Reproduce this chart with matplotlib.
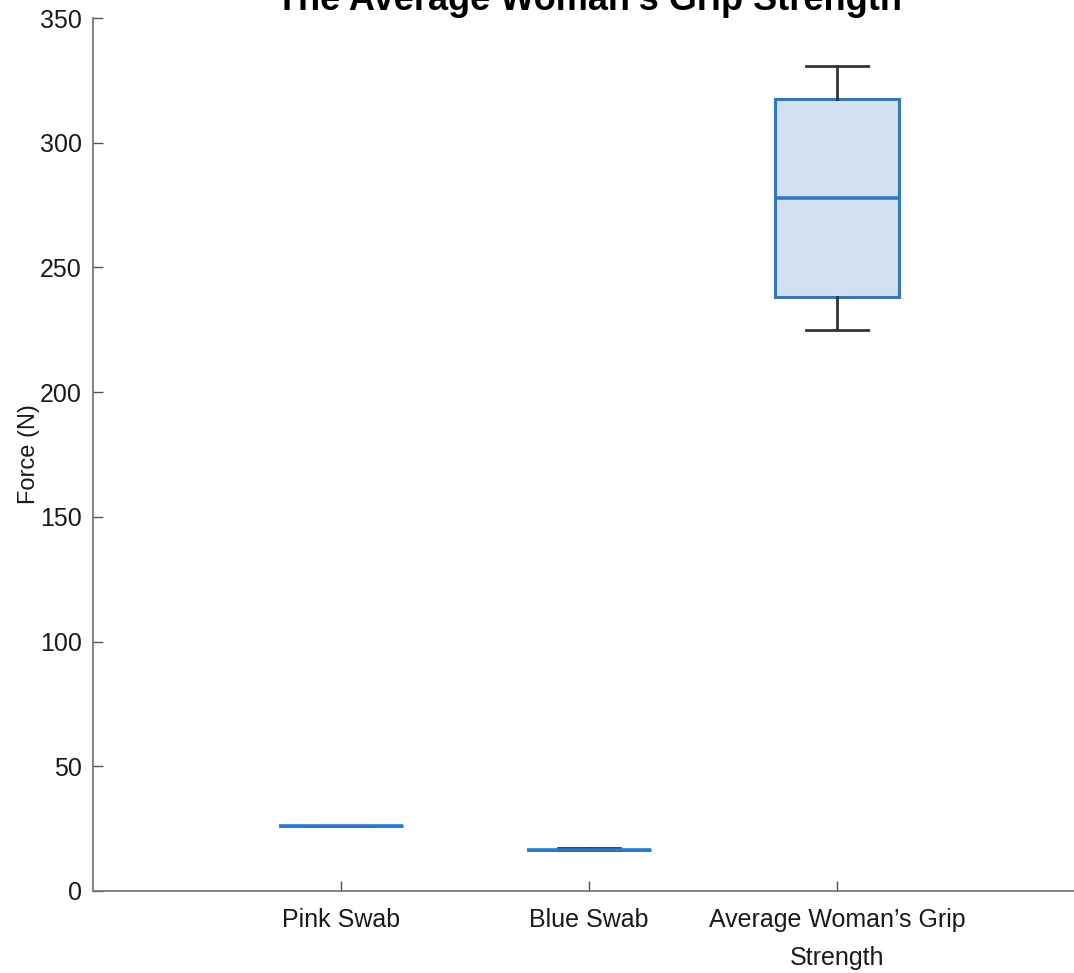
import matplotlib.pyplot as plt

plt.rcParams['font.family'] = ['Liberation Sans', 'DejaVu Sans']

# box statistics (Force in N)
labels = ['Pink Swab', 'Blue Swab', 'Average Woman\u2019s Grip\nStrength']
whislo = [26.2, 16.4, 224.9]
q1 = [26.2, 16.4, 238.3]
med = [26.2, 16.4, 278.0]
q3 = [26.2, 16.4, 317.6]
whishi = [26.2, 17.3, 330.9]
yticks = [0, 50, 100, 150, 200, 250, 300, 350]

stats = [dict(label=l, whislo=a, q1=b, med=c, q3=d, whishi=e)
         for l, a, b, c, d, e in zip(labels, whislo, q1, med, q3, whishi)]

fig = plt.figure(figsize=(10.74, 9.73), dpi=100)
ax = fig.add_axes([93 / 1074, 82 / 973, 992 / 1074, 873 / 973])

blue = '#2f78c4'
dark = '#333333'
ax.bxp(stats, positions=[1, 2, 3], widths=0.5, showfliers=False,
       patch_artist=True,
       boxprops=dict(facecolor=(0.184, 0.47, 0.77, 0.22), edgecolor=blue, linewidth=2.2),
       medianprops=dict(color=blue, linewidth=2.6),
       whiskerprops=dict(color=dark, linewidth=2),
       capprops=dict(color=dark, linewidth=2),
       capwidths=0.25)

ax.set_xlim(0, 4)
ax.set_ylim(0, 350)
ax.set_yticks(yticks)
ax.set_xticks([1, 2, 3])
ax.set_xticklabels(labels, linespacing=1.75)
ax.tick_params(direction='in', length=7, width=1, colors='#555555',
               labelcolor='#1a1a1a', labelsize=18)
ax.tick_params(axis='x', pad=12)
ax.tick_params(axis='y', pad=8)
for s in ['top', 'right']:
    ax.spines[s].set_visible(False)
for s in ['left', 'bottom']:
    ax.spines[s].set_color('#777777')
    ax.spines[s].set_linewidth(1.3)

ax.set_ylabel('Force (N)', fontsize=17, color='#1a1a1a', labelpad=0)
fig.text(589 / 1074, 1.0, 'The Average Woman\u2019s Grip Strength',
         fontsize=26, fontweight='bold', ha='center', va='center')

fig.savefig('out.png', dpi=100)
